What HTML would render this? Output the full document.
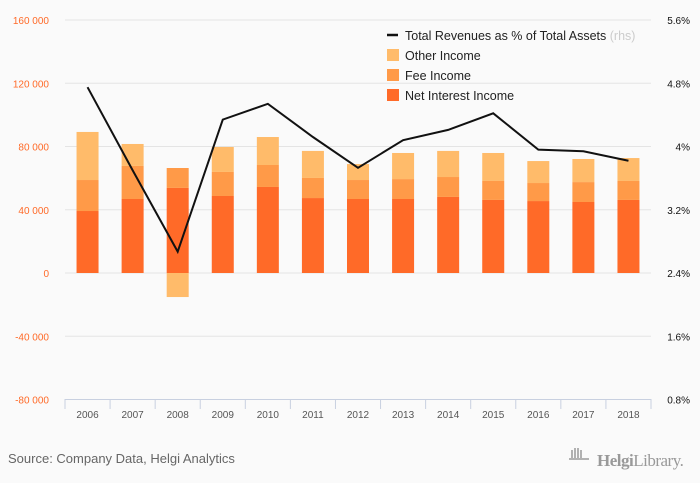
<!DOCTYPE html>
<html><head><meta charset="utf-8"><style>
html,body{margin:0;padding:0;background:#fafafa;}
svg{display:block;font-family:"Liberation Sans",sans-serif;}
</style></head><body>
<svg id="chart" width="700" height="483" viewBox="0 0 700 483">
<rect width="700" height="483" fill="#fafafa"/>
<g id="grid"></g><g id="bars"></g><g id="line"></g><g id="axes"></g>
<g>
<line x1="387" y1="35" x2="398" y2="35" stroke="#111" stroke-width="2.5"/>
<text x="405" y="40" font-size="12.5" fill="#222">Total Revenues as % of Total Assets <tspan fill="#ccc">(rhs)</tspan></text>
<rect x="387" y="49" width="12" height="12" fill="#ffbb6a"/>
<text x="405" y="60" font-size="12.5" fill="#222">Other Income</text>
<rect x="387" y="69" width="12" height="12" fill="#ff9a48"/>
<text x="405" y="80" font-size="12.5" fill="#222">Fee Income</text>
<rect x="387" y="89" width="12" height="12" fill="#ff6a28"/>
<text x="405" y="100" font-size="12.5" fill="#222">Net Interest Income</text>
</g>
<text x="8" y="463" font-size="13" fill="#666">Source: Company Data, Helgi Analytics</text>
<g>
<g stroke="#999" stroke-width="1.5"><line x1="572" y1="458" x2="572" y2="450"/><line x1="575" y1="458" x2="575" y2="448"/><line x1="578" y1="458" x2="578" y2="448"/><line x1="581" y1="458" x2="581" y2="450"/><line x1="569" y1="459" x2="589" y2="459"/></g>
<text x="597" y="466" font-size="17" fill="#999" font-family="Liberation Serif,serif" letter-spacing="-0.5"><tspan font-weight="bold">Helgi</tspan>Library.</text>
</g>
</svg>
<script>
const categories=["2006","2007","2008","2009","2010","2011","2012","2013","2014","2015","2016","2017","2018"];
const netInterest=[39200,46800,53800,48700,54400,47400,46800,46800,48100,46200,45500,44900,46200];
const feeIncome=[19600,20900,12600,15200,13900,12700,12000,12600,12600,12000,11400,12600,12000];
const otherIncome=[30400,13900,-15200,15800,17700,17100,10100,16500,16500,17700,13900,14600,14500];
const revPct=[4.75,3.70,2.67,4.34,4.54,4.12,3.73,4.08,4.21,4.42,3.96,3.94,3.82];
const leftTicks=[160000,120000,80000,40000,0,-40000,-80000];
const rightTicks=[5.6,4.8,4,3.2,2.4,1.6,0.8];
const NS="http://www.w3.org/2000/svg";
const x0=65,x1=651,yTop=20,yBot=399;
const step=(x1-x0)/categories.length;
const xc=i=>x0+step*(i+0.5);
const yL=v=>273-(v/40000)*63.25;
const yR=p=>yTop+(5.6-p)/0.8*63.25;
function mk(tag,attrs,parent){const e=document.createElementNS(NS,tag);for(const k in attrs)e.setAttribute(k,attrs[k]);parent.appendChild(e);return e;}
const grid=document.getElementById('grid'),bars=document.getElementById('bars'),axes=document.getElementById('axes'),lineG=document.getElementById('line');
leftTicks.forEach((t,i)=>{
  const y=yL(t);
  if(t!==-80000){const g=mk('line',{x1:x0,x2:x1,y1:y,y2:y,stroke:'#e4e4e4','stroke-width':1},grid);
  
  }
  const tx=mk('text',{x:49,y:y+4,'text-anchor':'end','font-size':10,fill:'#ff6a28'},axes);
  tx.textContent=t.toLocaleString('en-US').replace(/,/g,' ');
  
  
});
rightTicks.forEach(t=>{
  const tx=mk('text',{x:690,y:yR(t)+4,'text-anchor':'end','font-size':10,fill:'#111'},axes);
  tx.textContent=t+'%';
  
  
});
mk('line',{x1:x0,x2:x1,y1:yBot+0.5,y2:yBot+0.5,stroke:'#c8d0e0'},axes);
for(let i=0;i<=categories.length;i++){mk('line',{x1:x0+step*i,x2:x0+step*i,y1:yBot,y2:yBot+10,stroke:'#c8d0e0'},axes);}
const bw=22;
categories.forEach((c,i)=>{
  const x=xc(i)-bw/2;
  const n=netInterest[i],f=feeIncome[i],o=otherIncome[i];
  const r1=mk('rect',{x:x,y:yL(n),width:bw,height:yL(0)-yL(n),fill:'#ff6a28'},bars);
  
  
  const r2=mk('rect',{x:x,y:yL(n+f),width:bw,height:yL(n)-yL(n+f),fill:'#ff9a48'},bars);
  
  
  let ry,rh;
  if(o>=0){ry=yL(n+f+o);rh=yL(n+f)-ry;}else{ry=yL(0);rh=yL(o)-yL(0);}
  const r3=mk('rect',{x:x,y:ry,width:bw,height:rh,fill:'#ffbb6a'},bars);
  
  
  const t=mk('text',{x:xc(i),y:418,'text-anchor':'middle','font-size':10,fill:'#555'},axes);
  t.textContent=c;
  
  
});
const pl=mk('polyline',{points:revPct.map((p,i)=>xc(i)+','+yR(p)).join(' '),fill:'none',stroke:'#111','stroke-width':2},lineG);


</script>
</body></html>
